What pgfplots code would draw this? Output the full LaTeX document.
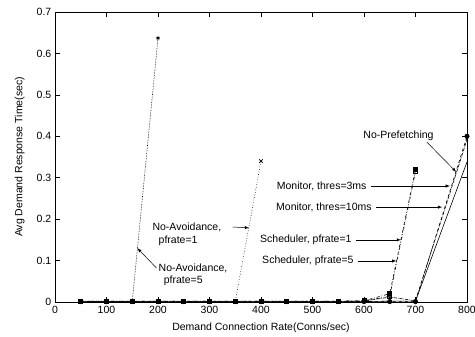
\documentclass[border=0pt]{standalone}
\usepackage{fontspec}
\setmainfont{Liberation Sans}
\usepackage{pgfplots}
\pgfplotsset{compat=1.18}
\begin{document}
\fontsize{10.5}{12}\selectfont
\begin{tikzpicture}[x=1pt,y=1pt]
\begin{axis}[
  at={(55pt,35pt)}, anchor=south west,
  scale only axis, width=412pt, height=290pt,
  xmin=0, xmax=800, ymin=0, ymax=0.7,
  xtick={0,100,...,800}, ytick={0,0.1,...,0.7},
  yticklabels={0,0.1,0.2,0.3,0.4,0.5,0.6,0.7},
  tick align=inside, tick style={black, line width=0.5pt},
  major tick length=5pt,
  /pgf/number format/assume math mode=true,
  ticklabel style={font=\fontsize{10.5}{12}\selectfont},
  xlabel={Demand Connection Rate(Conns/sec)},
  ylabel={Avg Demand Response Time(sec)},
  label style={font=\fontsize{10.5}{12}\selectfont},
  xlabel style={yshift=-3pt},
  ylabel style={yshift=5pt},
  axis line style={line width=0.7pt},
  every axis plot/.append style={line width=0.6pt, black},
  clip=false,
]
% No-Avoidance, pfrate=5
\addplot[densely dotted, mark=asterisk, mark size=2pt, mark options={solid}] coordinates {
 (50,0.001) (100,0.001) (150,0.001) (200,0.637)};
% No-Avoidance, pfrate=1
\addplot[dotted, mark=x, mark size=2.5pt, mark options={solid}] coordinates {
 (50,0.001) (100,0.001) (150,0.001) (200,0.001) (250,0.001) (300,0.001) (350,0.001) (400,0.34)};
% Scheduler, pfrate=1
\addplot[dashdotted, mark=square*, mark size=2pt, mark options={solid}] coordinates {
 (50,0.002) (100,0.002) (150,0.002) (200,0.002) (250,0.002) (300,0.002) (350,0.002) (400,0.002) (450,0.002) (500,0.002) (550,0.002) (600,0.003) (650,0.02) (700,0.32)};
% Scheduler, pfrate=5
\addplot[dash dot dot, mark=square, mark size=2pt, mark options={solid}] coordinates {
 (50,0.002) (100,0.002) (150,0.002) (200,0.002) (250,0.002) (300,0.002) (350,0.002) (400,0.002) (450,0.002) (500,0.002) (550,0.002) (600,0.003) (650,0.014) (700,0.315)};
% Monitor, thres=3ms
\addplot[densely dashdotted, mark=x, mark size=1.5pt, mark options={solid}] coordinates {
 (50,0.001) (100,0.001) (200,0.001) (300,0.001) (400,0.001) (500,0.001) (600,0.002) (650,0.012) (700,0.003) (800,0.392)};
% Monitor, thres=10ms
\addplot[solid] coordinates {
 (50,0.001) (100,0.001) (200,0.001) (300,0.001) (400,0.001) (500,0.001) (600,0.001) (650,0.002) (700,0.002) (800,0.338)};
% No-Prefetching
\addplot[dashed, mark=*, mark size=2.2pt, mark options={solid}] coordinates {
 (50,0.001) (100,0.001) (150,0.001) (200,0.001) (250,0.001) (300,0.001) (350,0.001) (400,0.001) (450,0.001) (500,0.001) (550,0.001) (600,0.001) (650,0.001) (700,0.001) (800,0.4)};

% annotations
\node[anchor=center] at (axis cs:667,0.4) {No-Prefetching};
\draw[-latex, line width=0.5pt] (axis cs:722,0.386) -- (axis cs:779,0.314);
\node[anchor=east] at (axis cs:612,0.28) {Monitor, thres=3ms};
\draw[-latex, line width=0.5pt] (axis cs:614,0.28) -- (axis cs:767,0.28);
\node[anchor=east] at (axis cs:622,0.229) {Monitor, thres=10ms};
\draw[-latex, line width=0.5pt] (axis cs:624,0.229) -- (axis cs:752,0.229);
\node[anchor=east] at (axis cs:583,0.15) {Scheduler, pfrate=1};
\draw[-latex, line width=0.5pt] (axis cs:585,0.15) -- (axis cs:672,0.15);
\node[anchor=east] at (axis cs:587,0.099) {Scheduler, pfrate=5};
\draw[-latex, line width=0.5pt] (axis cs:589,0.099) -- (axis cs:663,0.099);
\node[anchor=west, inner sep=0pt] at (axis cs:189,0.181) {No-Avoidance,};
\node[anchor=west, inner sep=0pt] at (axis cs:201,0.148) {pfrate=1};
\draw[-latex, line width=0.5pt] (axis cs:345,0.181) -- (axis cs:377,0.179);
\node[anchor=west, inner sep=0pt] at (axis cs:201,0.080) {No-Avoidance,};
\node[anchor=west, inner sep=0pt] at (axis cs:211,0.050) {pfrate=5};
\draw[-latex, line width=0.5pt] (axis cs:197,0.082) -- (axis cs:160,0.130);
\end{axis}
\pgfresetboundingbox
\path[use as bounding box] (0,0) rectangle (475,337);
\end{tikzpicture}
\end{document}
